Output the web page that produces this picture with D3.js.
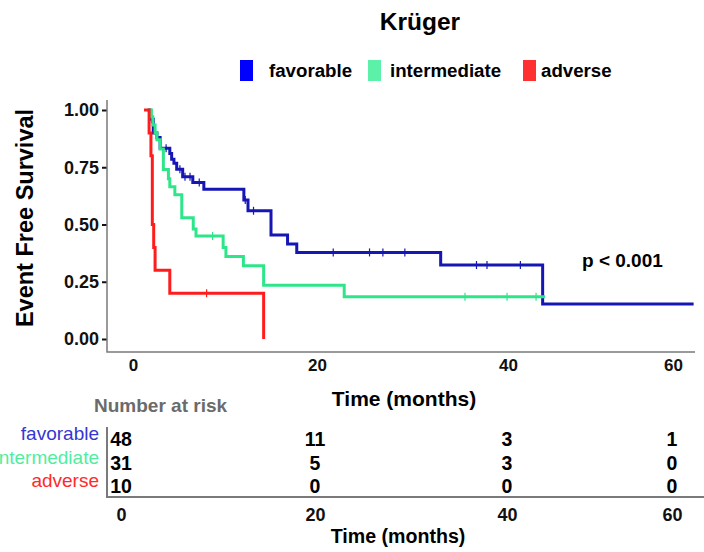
<!DOCTYPE html>
<html>
<head>
<meta charset="utf-8">
<script src="https://cdn.jsdelivr.net/npm/d3@7"></script>
<style>
  body { margin: 0; background: #fff; }
  svg { display: block; font-family: "Liberation Sans", Arial, sans-serif; }
  .bold { font-weight: bold; }
</style>
</head>
<body>
<script>
// groups and colours
let groups = ["favorable", "intermediate", "adverse"];
let lineColors = ["#1616b4", "#2ee68a", "#ff1c1c"];
let keyColors = ["#0000ff", "#5cf0a8", "#ff3030"];
let rowColors = ["#3636d4", "#4fee9f", "#ff2a2a"];

// Kaplan-Meier steps (months, survival)
let favTimes = [1.6, 1.85, 2.2, 2.6, 2.95, 4.0, 4.2, 4.45, 4.75, 5.4, 6.5, 7.7, 12.05, 12.5, 15.0, 16.8, 17.8, 32.95, 44.2];
let favSurv = [1.0, 0.96, 0.90, 0.88, 0.833, 0.81, 0.785, 0.767, 0.741, 0.709, 0.683, 0.654, 0.607, 0.56, 0.454, 0.415, 0.378, 0.323, 0.153];
let favCensor = [2.0, 3.6, 5.1, 5.65, 6.2, 7.2, 12.2, 13.1, 21.7, 25.5, 26.9, 29.2, 36.7, 37.8, 41.5];
let favEnd = 62.5;

let intTimes = [1.6, 2.0, 2.15, 2.4, 2.6, 2.95, 3.3, 3.85, 4.0, 4.55, 5.3, 6.55, 6.85, 9.8, 10.1, 12.0, 14.2, 22.85];
let intSurv = [1.0, 0.97, 0.935, 0.90, 0.87, 0.83, 0.74, 0.70, 0.665, 0.63, 0.53, 0.48, 0.45, 0.40, 0.36, 0.32, 0.235, 0.185];
let intCensor = [8.65, 35.5, 39.9, 43.4];
let intEnd = 44.5;

let advTimes = [1.2, 1.75, 1.95, 2.1, 2.25, 2.4, 4.0, 14.2];
let advSurv = [1.0, 0.9, 0.8, 0.5, 0.4, 0.3, 0.2, 0.0];
let advCensor = [8.0];
let advEnd = 14.2;

// number at risk table
let riskTimes = [0, 20, 40, 60];
let riskFav = [48, 11, 3, 1];
let riskInt = [31, 5, 3, 0];
let riskAdv = [10, 0, 0, 0];

let xTicks = [0, 20, 40, 60];
let yTicks = [0, 0.25, 0.5, 0.75, 1];

let curves = [
    {times: favTimes, surv: favSurv, censor: favCensor, end: favEnd},
    {times: intTimes, surv: intSurv, censor: intCensor, end: intEnd},
    {times: advTimes, surv: advSurv, censor: advCensor, end: advEnd}
];
let riskRows = [riskFav, riskInt, riskAdv];

let width = 704, height = 552;

let svg = d3.select("body").append("svg")
    .attr("width", width)
    .attr("height", height);

// scales
let x = d3.scaleLinear().domain(xTicks).range([133, 317, 508, 673]);
let y = d3.scaleLinear().domain([0, 1]).range([339, 110]);
let xRisk = d3.scaleLinear().domain(riskTimes).range([121, 315, 507, 672]);

// title and legend
svg.append("text")
    .attr("class", "bold")
    .attr("x", 420).attr("y", 30)
    .attr("text-anchor", "middle")
    .style("font-size", "24.5px")
    .text("Krüger");

let keyX = [240, 368, 523];
let labelX = [269, 390, 541];
let legend = svg.append("g");
groups.forEach((g, i) => {
    legend.append("rect")
        .attr("x", keyX[i]).attr("y", 60)
        .attr("width", 13).attr("height", 21)
        .attr("fill", keyColors[i]);
    legend.append("text")
        .attr("class", "bold")
        .attr("x", labelX[i]).attr("y", 77)
        .style("font-size", "18.7px")
        .text(g);
});

// axes
let yAxis = d3.axisLeft(y).tickValues(yTicks).tickFormat(d3.format(".2f")).tickSize(5).tickPadding(3);
let xAxis = d3.axisBottom(x).tickValues(xTicks).tickSize(0).tickPadding(7);

let yG = svg.append("g").attr("transform", "translate(107,0)").call(yAxis);
yG.select(".domain").remove();
yG.selectAll(".tick line").attr("stroke", "#111").attr("stroke-width", 2);
yG.selectAll("text").attr("class", "bold").style("font-size", "18px").attr("fill", "#111");

let xG = svg.append("g").attr("transform", "translate(0,352)").call(xAxis);
xG.select(".domain").remove();
xG.selectAll("text").attr("class", "bold").style("font-size", "17px").attr("fill", "#111");

svg.append("path")
    .attr("d", "M107,100V352H695")
    .attr("fill", "none")
    .attr("stroke", "#7a7a7a")
    .attr("stroke-width", 1.5);

svg.append("text")
    .attr("class", "bold")
    .attr("transform", "translate(33,218) rotate(-90)")
    .attr("text-anchor", "middle")
    .style("font-size", "23.5px")
    .text("Event Free Survival");

svg.append("text")
    .attr("class", "bold")
    .attr("x", 404).attr("y", 406)
    .attr("text-anchor", "middle")
    .style("font-size", "21px")
    .text("Time (months)");

// curves
let stepLine = d3.line()
    .x(d => x(d[0]))
    .y(d => y(d[1]))
    .curve(d3.curveStepAfter);

curves.forEach((c, i) => {
    let pts = c.times.map((t, j) => [t, c.surv[j]]);
    if (c.end > c.times[c.times.length - 1]) pts.push([c.end, c.surv[c.surv.length - 1]]);
    svg.append("path")
        .attr("d", stepLine(pts))
        .attr("fill", "none")
        .attr("stroke", lineColors[i])
        .attr("stroke-width", 3);

    c.censor.forEach(t => {
        let s = c.surv[d3.bisectRight(c.times, t) - 1];
        svg.append("line")
            .attr("x1", x(t)).attr("x2", x(t))
            .attr("y1", y(s) - 4).attr("y2", y(s) + 4)
            .attr("stroke", lineColors[i])
            .attr("stroke-width", 1.2);
    });
});

svg.append("text")
    .attr("class", "bold")
    .attr("x", 582).attr("y", 267)
    .style("font-size", "19px")
    .text("p < 0.001");

// number at risk
svg.append("text")
    .attr("class", "bold")
    .attr("x", 94).attr("y", 412)
    .attr("fill", "#6b6b6b")
    .style("font-size", "19px")
    .text("Number at risk");

let labelY = [439.5, 463.5, 487];
let rowY = [446, 469.5, 493];
groups.forEach((g, i) => {
    svg.append("text")
        .attr("x", 99).attr("y", labelY[i])
        .attr("text-anchor", "end")
        .attr("fill", rowColors[i])
        .style("font-size", "19px")
        .text(g);
    svg.selectAll(null)
        .data(riskRows[i])
        .enter().append("text")
        .attr("class", "bold")
        .attr("x", (d, j) => xRisk(riskTimes[j]))
        .attr("y", rowY[i])
        .attr("text-anchor", "middle")
        .style("font-size", "19.5px")
        .text(d => d);
});

let riskAxis = d3.axisBottom(xRisk).tickValues(riskTimes).tickSize(0).tickPadding(11);
let rG = svg.append("g").attr("transform", "translate(0,497)").call(riskAxis);
rG.select(".domain").remove();
rG.selectAll("text").attr("class", "bold").style("font-size", "18px").attr("fill", "#111");

svg.append("path")
    .attr("d", "M107,427V497H704")
    .attr("fill", "none")
    .attr("stroke", "#7a7a7a")
    .attr("stroke-width", 2);

svg.append("text")
    .attr("class", "bold")
    .attr("x", 398).attr("y", 543)
    .attr("text-anchor", "middle")
    .style("font-size", "19.6px")
    .text("Time (months)");
</script>
</body>
</html>
